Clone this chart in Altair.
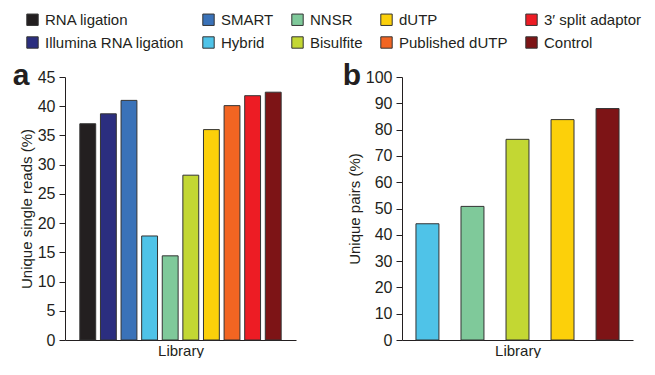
import altair as alt
import pandas as pd

# ---- data ----
a_libs = ["RNA ligation", "Illumina RNA ligation", "SMART", "Hybrid", "NNSR",
          "Bisulfite", "dUTP", "Published dUTP", "3\u2032 split adaptor", "Control"]
a_vals = [37.0, 38.7, 41.0, 17.8, 14.4, 28.2, 36.0, 40.1, 41.8, 42.4]

b_libs = ["Hybrid", "NNSR", "Bisulfite", "dUTP", "Control"]
b_vals = [44.2, 50.8, 76.3, 83.8, 88.0]

lib_colors = ["#231f20", "#2b2e7f", "#3a72b8", "#4fc3e8", "#7fc99a",
              "#c3d733", "#fcd00a", "#f26522", "#ed1c24", "#7d1416"]

df_a = pd.DataFrame({"Library": a_libs, "Value": a_vals})
df_b = pd.DataFrame({"Library": b_libs, "Value": b_vals})

FONT = "Liberation Sans, Arial, Helvetica, sans-serif"
INK = "#231f20"

color = alt.Color(
    "Library:N",
    scale=alt.Scale(domain=a_libs, range=lib_colors),
    legend=alt.Legend(
        orient="none", legendX=-40, legendY=-65, columns=5, title=None,
        symbolType="square", symbolSize=130, symbolStrokeColor="#333333",
        symbolStrokeWidth=1, symbolOpacity=1,
        labelFontSize=15, labelFont=FONT, labelColor=INK, labelOffset=5,
        columnPadding=15, rowPadding=6,
    ),
)


def panel(df, order, ymax, ystep, ytitle, letter, pin, pout, lx, ly):
    bars = alt.Chart(df).mark_bar(stroke="#333333", strokeWidth=1).encode(
        x=alt.X("Library:N", sort=order,
                scale=alt.Scale(paddingInner=pin, paddingOuter=pout),
                axis=alt.Axis(labels=False, ticks=False, title="Library",
                              titlePadding=3)),
        y=alt.Y("Value:Q",
                scale=alt.Scale(domain=[0, ymax], nice=False),
                axis=alt.Axis(values=list(range(0, ymax + 1, ystep)),
                              title=ytitle, grid=False, tickSize=6,
                              labelPadding=4, titlePadding=3)),
        color=color,
    )
    lab = alt.Chart(pd.DataFrame({"t": [letter]})).mark_text(
        fontSize=30, fontWeight="bold", font=FONT, color=INK,
        align="center", baseline="alphabetic",
    ).encode(text="t:N", x=alt.value(lx), y=alt.value(ly))
    return alt.layer(bars, lab).properties(width=231, height=263)


pa = panel(df_a, a_libs, 45, 5, "Unique single reads (%)", "a", 0.23, 0.72, -44, 8)
pb = panel(df_b, b_libs, 100, 10, "Unique pairs (%)", "b", 0.49, 0.31, -50, 8)

chart = alt.hconcat(pa, pb, spacing=46).properties(
    padding={"left": 4, "top": 4, "right": 0, "bottom": 0}
).configure_axis(
    labelFont=FONT, titleFont=FONT, labelFontSize=16, titleFontSize=15,
    labelColor=INK, titleColor=INK, titleFontWeight="normal",
    domainColor=INK, tickColor=INK, domainWidth=1, tickWidth=1,
).configure_view(stroke=None)

chart.save("out.html", embed_options={"renderer": "svg", "actions": False})
